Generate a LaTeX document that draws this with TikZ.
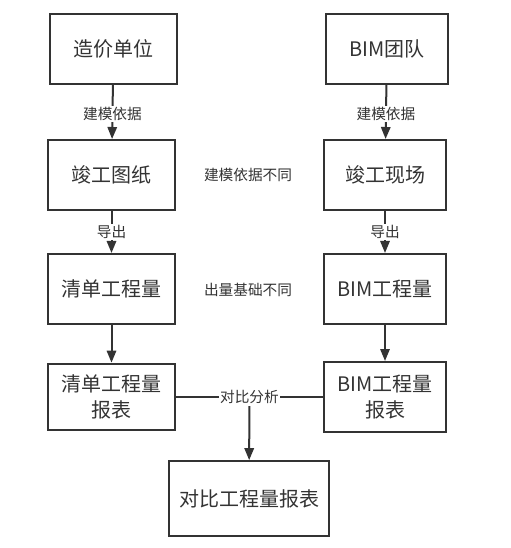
\documentclass[tikz,border=0pt]{standalone}
\usepackage{fontspec}
\setmainfont{Noto Sans CJK SC}
\usetikzlibrary{arrows.meta}
\definecolor{ink}{HTML}{333333}

\begin{document}
\begin{tikzpicture}[
                x=0.75pt, y=-0.75pt,
                every node/.style={
                  text=ink,
                  font=\fontsize{11}{13}\selectfont,
                },
                box/.style={
                  draw=ink,
                  line width=1.5pt,
                  align=center,
                  minimum width=95pt,
                  minimum height=52.5pt,
                  font=\fontsize{15}{19.5}\selectfont,
                },
                lbl/.style={fill=white, inner sep=1pt},
                line width=1.5pt,
                draw=ink,
                >={Triangle[length=9pt,width=7pt]},
              ]
              \useasboundingbox (0,0) rectangle (510,548) ;
              \node[box] (zjdw) at (113.5,49) {造价单位} ;
              \node[box, minimum width=91.5pt] (bimtd) at (387,49) {BIM团队} ;
              \node[box] (jgtz) at (111.5,175) {竣工图纸} ;
              \node[box, minimum width=91.5pt] (jgxc) at (385,175) {竣工现场} ;
              \node[box] (qdgcl) at (111.5,289) {清单工程量} ;
              \node[box, minimum width=91.5pt] (bimgcl) at (385,289) {BIM工程量} ;
              \node[box, minimum height=50pt] (qdbb) at (111.5,397) {清单工程量\\报表} ;
              \node[box, minimum width=91.5pt] (bimbb) at (385,397) {BIM工程量\\报表} ;
              \node[box, minimum width=120pt, minimum height=56pt] (dbbb) at (249,498.5) {对比工程量报表} ;
              \node (jmbt) at (248,175) {建模依据不同} ;
              \node (clbt) at (248,290) {出量基础不同} ;
              \draw[->] (zjdw) -- node[lbl, pos=0.53] {建模依据} (jgtz) ;
              \draw[->] (bimtd) -- node[lbl, pos=0.53] {建模依据} (jgxc) ;
              \draw[->] (jgtz) -- node[lbl] {导出} (qdgcl) ;
              \draw[->] (jgxc) -- node[lbl] {导出} (bimgcl) ;
              \draw[->] (qdgcl) -- (qdbb) ;
              \draw[->] (bimgcl) -- (bimbb) ;
              \draw (qdbb) -- node[lbl] (dbfx) {对比分析} (bimbb) ;
              \draw[->] (dbfx) -- (dbbb) ;
              \end{tikzpicture}
\end{document}
